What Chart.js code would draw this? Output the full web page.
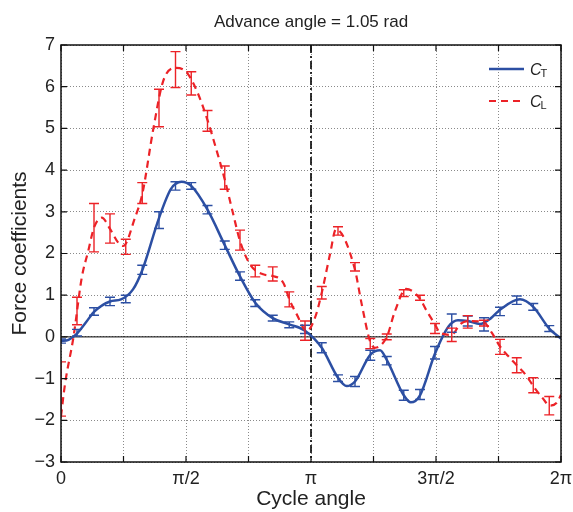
<!DOCTYPE html>
<html>
<head>
<meta charset="utf-8">
<script src="https://cdn.jsdelivr.net/npm/chart.js@4.4.0/dist/chart.umd.min.js"></script>
<style>
  html, body { margin: 0; padding: 0; background: #fff; }
</style>
</head>
<body>
<canvas id="chart" width="573" height="512"></canvas>
<script>
// angles are in units of pi
const barAngles = [0, 0.064, 0.132, 0.196, 0.259, 0.325, 0.392, 0.458, 0.521, 0.586, 0.655,
  0.716, 0.777, 0.847, 0.913, 0.976, 1.043, 1.108, 1.176, 1.237, 1.303, 1.371, 1.436,
  1.496, 1.563, 1.627, 1.692, 1.756, 1.823, 1.889, 1.953];
const ctMean = [-0.1, 0.1, 0.61, 0.85, 0.91, 1.61, 2.8, 3.62, 3.62, 3.05, 2.2, 1.46, 0.81,
  0.45, 0.29, 0.18, -0.26, -0.99, -1.07, -0.44, -0.57, -1.4, -1.38, -0.38, 0.33, 0.38, 0.3,
  0.61, 0.88, 0.72, 0.2];
const ctErr = [0.05, 0.08, 0.09, 0.1, 0.09, 0.11, 0.2, 0.1, 0.08, 0.1, 0.1, 0.1, 0.08, 0.07,
  0.07, 0.1, 0.12, 0.08, 0.12, 0.12, 0.1, 0.12, 0.12, 0.15, 0.22, 0.12, 0.16, 0.1, 0.1, 0.08, 0.07];
const clMean = [-1.25, 0.62, 2.62, 2.6, 2.16, 3.45, 5.49, 6.41, 6.08, 5.18, 3.82, 2.32, 1.58,
  1.51, 0.9, 0.15, 1.06, 2.54, 1.68, -0.16, 0.0, 1.05, 0.94, 0.2, 0.05, 0.36, 0.33, -0.24,
  -0.68, -1.16, -1.65];
const clErr = [0.65, 0.33, 0.58, 0.35, 0.18, 0.25, 0.45, 0.43, 0.28, 0.25, 0.28, 0.24, 0.14,
  0.17, 0.18, 0.23, 0.15, 0.1, 0.1, 0.12, 0.07, 0.08, 0.06, 0.12, 0.16, 0.15, 0.07, 0.18,
  0.18, 0.18, 0.22];

// fitted curves
const ctCurveX = [0, 0.03, 0.064, 0.1, 0.132, 0.196, 0.24, 0.288, 0.325, 0.392, 0.44, 0.482,
  0.521, 0.586, 0.655, 0.716, 0.777, 0.847, 0.913, 0.976, 1.043, 1.108, 1.143, 1.176, 1.237,
  1.276, 1.303, 1.371, 1.399, 1.436, 1.496, 1.55, 1.588, 1.627, 1.676, 1.72, 1.756, 1.836,
  1.889, 1.953, 2];
const ctCurveY = [-0.1, -0.07, 0.08, 0.35, 0.6, 0.85, 0.9, 1.14, 1.6, 2.85, 3.55, 3.72,
  3.62, 3.05, 2.2, 1.45, 0.82, 0.45, 0.3, 0.15, -0.26, -0.98, -1.18, -1.07, -0.43,
  -0.32, -0.55, -1.4, -1.57, -1.4, -0.4, 0.25, 0.4, 0.38, 0.31, 0.45, 0.65, 0.9,
  0.72, 0.2, -0.04];
const clCurveX = [0, 0.016, 0.05, 0.083, 0.109, 0.132, 0.163, 0.196, 0.229, 0.249, 0.296,
  0.325, 0.369, 0.409, 0.46, 0.503, 0.549, 0.587, 0.623, 0.653, 0.689, 0.716, 0.756, 0.809,
  0.847, 0.889, 0.916, 0.943, 0.983, 1.016, 1.043, 1.076, 1.1, 1.173, 1.203, 1.236, 1.256,
  1.303, 1.336, 1.38, 1.433, 1.463, 1.496, 1.516, 1.563, 1.596, 1.627, 1.689, 1.723, 1.756,
  1.789, 1.823, 1.863, 1.889, 1.923, 1.956, 1.983, 2];
const clCurveY = [-1.9, -1.13, 0.0, 1.42, 2.06, 2.62, 2.86, 2.59, 2.26, 2.18, 2.86,
  3.42, 4.98, 6.14, 6.45, 6.34, 5.82, 5.18, 4.46, 3.82, 2.94, 2.3, 1.74, 1.5,
  1.46, 1.3, 0.86, 0.54, 0.14, 0.46, 1.06, 1.98, 2.58, 1.68, 0.78, -0.1, -0.26,
  0.0, 0.62, 1.15, 0.94, 0.62, 0.3, 0.1, 0.05, 0.3, 0.38, 0.36, 0.1, -0.23,
  -0.46, -0.68, -0.94, -1.18, -1.44, -1.65, -1.58, -1.39];

const xTickValues = [0, 0.5, 1, 1.5, 2];
const xTickLabels = ['0', 'π/2', 'π', '3π/2', '2π'];
const seriesNames = ['T', 'L'];

const BLUE = '#2c4fa3';
const RED = '#ec2227';
const FONT = '"Liberation Sans", Arial, Helvetica, sans-serif';

const toPoints = (xs, ys) => xs.map((x, i) => ({ x: x, y: ys[i] }));

const plotDecor = {
  id: 'plotDecor',
  beforeDatasetsDraw(chart) {
    const { ctx, chartArea: a, scales: { x, y } } = chart;
    ctx.save();
    ctx.strokeStyle = '#000';
    ctx.lineWidth = 1;
    const y0 = y.getPixelForValue(0);
    ctx.beginPath();
    ctx.moveTo(a.left, y0);
    ctx.lineTo(a.right, y0);
    ctx.stroke();
    // dash-dot line at pi
    const xp = x.getPixelForValue(1);
    ctx.lineWidth = 1.6;
    ctx.setLineDash([8, 3, 2, 3]);
    ctx.beginPath();
    ctx.moveTo(xp, a.top);
    ctx.lineTo(xp, a.bottom);
    ctx.stroke();
    ctx.restore();
  },
  afterDatasetsDraw(chart) {
    const { ctx, chartArea: a, scales: { y } } = chart;
    ctx.save();
    ctx.beginPath();
    ctx.rect(a.left, a.top, a.right - a.left, a.bottom - a.top);
    ctx.clip();
    // blue bars first, red on top
    [3, 1].forEach(idx => {
      const ds = chart.data.datasets[idx];
      const meta = chart.getDatasetMeta(idx);
      ctx.strokeStyle = ds.borderColor;
      ctx.lineWidth = 1.4;
      meta.data.forEach((pt, i) => {
        const v = ds.data[i].y;
        const e = ds.errors[i];
        const top = y.getPixelForValue(v + e);
        const bot = y.getPixelForValue(v - e);
        ctx.beginPath();
        ctx.moveTo(pt.x, top);
        ctx.lineTo(pt.x, bot);
        ctx.moveTo(pt.x - 5, top);
        ctx.lineTo(pt.x + 5, top);
        ctx.moveTo(pt.x - 5, bot);
        ctx.lineTo(pt.x + 5, bot);
        ctx.stroke();
      });
    });
    ctx.restore();
  },
  afterDraw(chart) {
    const { ctx, chartArea: a, scales: { x, y } } = chart;
    ctx.save();
    ctx.strokeStyle = '#111';
    ctx.lineWidth = 1.5;
    ctx.strokeRect(a.left, a.top, a.right - a.left, a.bottom - a.top);
    // inward ticks
    ctx.lineWidth = 1.2;
    ctx.beginPath();
    x.ticks.forEach(t => {
      const px = x.getPixelForValue(t.value);
      ctx.moveTo(px, a.bottom); ctx.lineTo(px, a.bottom - 6);
      ctx.moveTo(px, a.top); ctx.lineTo(px, a.top + 6);
    });
    y.ticks.forEach(t => {
      const py = y.getPixelForValue(t.value);
      ctx.moveTo(a.left, py); ctx.lineTo(a.left + 6, py);
      ctx.moveTo(a.right, py); ctx.lineTo(a.right - 6, py);
    });
    ctx.stroke();

    // legend
    const lx = a.right - 72;
    const rows = [
      { color: BLUE, dash: [], width: 2.5, y: a.top + 24 },
      { color: RED, dash: [7, 5], width: 2.2, y: a.top + 56 }
    ];
    rows.forEach((r, i) => {
      ctx.strokeStyle = r.color;
      ctx.lineWidth = r.width;
      ctx.setLineDash(r.dash);
      ctx.beginPath();
      ctx.moveTo(lx, r.y);
      ctx.lineTo(lx + 35, r.y);
      ctx.stroke();
      ctx.setLineDash([]);
      ctx.fillStyle = '#222';
      ctx.textBaseline = 'alphabetic';
      ctx.font = 'italic 16px ' + FONT;
      ctx.fillText('C', lx + 41, r.y + 6);
      const cw = ctx.measureText('C').width;
      ctx.font = '11px ' + FONT;
      ctx.fillText(seriesNames[i], lx + 40 + cw, r.y + 8);
    });
    ctx.restore();
  }
};

new Chart(document.getElementById('chart'), {
  type: 'line',
  data: {
    datasets: [
      {
        label: 'CL',
        data: toPoints(clCurveX, clCurveY),
        borderColor: RED,
        borderWidth: 2.2,
        borderDash: [7, 5],
        pointRadius: 0,
        cubicInterpolationMode: 'monotone',
        fill: false
      },
      {
        label: 'CL bars',
        type: 'scatter',
        data: toPoints(barAngles, clMean),
        errors: clErr,
        borderColor: RED,
        pointRadius: 0,
        showLine: false
      },
      {
        label: 'CT',
        data: toPoints(ctCurveX, ctCurveY),
        borderColor: BLUE,
        borderWidth: 2.5,
        pointRadius: 0,
        cubicInterpolationMode: 'monotone',
        fill: false
      },
      {
        label: 'CT bars',
        type: 'scatter',
        data: toPoints(barAngles, ctMean),
        errors: ctErr,
        borderColor: BLUE,
        pointRadius: 0,
        showLine: false
      }
    ]
  },
  options: {
    responsive: false,
    animation: false,
    layout: { padding: { left: 0, right: 12, top: 0, bottom: 0 } },
    plugins: {
      legend: { display: false },
      tooltip: { enabled: false },
      title: {
        display: true,
        text: 'Advance angle = 1.05 rad',
        color: '#222',
        fullSize: false,
        font: { family: FONT, size: 17, weight: 'normal', lineHeight: 1.2 },
        padding: { top: 12, bottom: 12.6 }
      }
    },
    scales: {
      x: {
        type: 'linear',
        min: 0,
        max: 2,
        afterFit: s => { s.height = 50; s.paddingLeft = 0; s.paddingRight = 0; },
        grid: { color: '#8a8a8a', lineWidth: 1, drawTicks: false },
        border: { display: false, dash: [1, 2] },
        ticks: {
          stepSize: 0.25,
          autoSkip: false,
          maxRotation: 0,
          padding: 6,
          color: '#222',
          font: { family: FONT, size: 18 },
          callback: v => {
            const k = xTickValues.findIndex(t => Math.abs(t - v) < 1e-6);
            return k >= 0 ? xTickLabels[k] : '';
          }
        },
        title: {
          display: true,
          text: 'Cycle angle',
          color: '#222',
          font: { family: FONT, size: 21, lineHeight: 1.2 },
          padding: { top: 0, bottom: 0 }
        }
      },
      y: {
        min: -3,
        max: 7,
        afterFit: s => { s.width = 61; s.paddingTop = 0; s.paddingBottom = 0; },
        grid: { color: '#8a8a8a', lineWidth: 1, drawTicks: false },
        border: { display: false, dash: [1, 2] },
        ticks: {
          stepSize: 1,
          padding: 6,
          color: '#222',
          font: { family: FONT, size: 18 },
          callback: v => String(v).replace('-', '\u2212')
        },
        title: {
          display: true,
          text: 'Force coefficients',
          color: '#222',
          font: { family: FONT, size: 21, lineHeight: 1.2 },
          padding: { top: 8, bottom: 0 }
        }
      }
    }
  },
  plugins: [plotDecor]
});
</script>
</body>
</html>
